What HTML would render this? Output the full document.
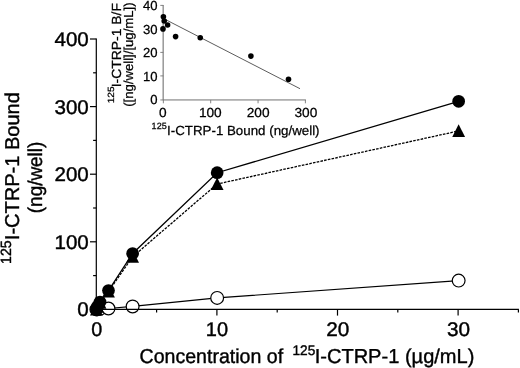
<!DOCTYPE html>
<html><head><meta charset="utf-8"><title>Figure</title>
<style>
html,body{margin:0;padding:0;background:#fff;}
body{width:520px;height:368px;overflow:hidden;}
svg{display:block;}
text{font-family:"Liberation Sans",Arial,Helvetica,sans-serif;fill:#000;stroke:#000;stroke-width:0.4px;text-rendering:geometricPrecision;}
text.s{stroke-width:0.25px;}
</style></head><body>
<svg width="520" height="368" viewBox="0 0 520 368">
<rect width="520" height="368" fill="#fff"/>

<g>
<text transform="translate(77.34 316.40) scale(1.0400 1)" font-size="19.8">0</text>
<text transform="translate(54.46 248.80) scale(1.0400 1)" font-size="19.8">100</text>
<text transform="translate(54.46 181.20) scale(1.0400 1)" font-size="19.8">200</text>
<text transform="translate(54.46 113.60) scale(1.0400 1)" font-size="19.8">300</text>
<text transform="translate(54.46 46.00) scale(1.0400 1)" font-size="19.8">400</text>
<text transform="translate(91.20 335.50) scale(1.0000 1)" font-size="19.8">0</text>
<text transform="translate(205.81 335.50) scale(1.0100 1)" font-size="19.8">10</text>
<text transform="translate(326.22 335.50) scale(1.0500 1)" font-size="19.8">20</text>
<text transform="translate(446.95 335.50) scale(1.0500 1)" font-size="19.8">30</text>
<text transform="translate(139.53 363.00) scale(0.9692 1)" font-size="20.2">Concentration of</text>
<text transform="translate(292.52 355.30) scale(0.9827 1)" font-size="13.9">125</text>
<text transform="translate(314.64 363.00) scale(0.9935 1)" font-size="20.2">I-CTRP-1 (µg/mL)</text>
<text transform="translate(11.30 263.98) rotate(-90) scale(0.9565 1)" font-size="14.8">125</text>
<text transform="translate(19.00 240.18) rotate(-90) scale(1.0012 1)" font-size="20">I-CTRP-1 Bound</text>
<text transform="translate(42.00 213.18) rotate(-90) scale(0.9450 1)" font-size="20">(ng/well)</text>
<text transform="translate(150.15 104.20) scale(1.0000 1)" font-size="13.1" class="s">0</text>
<text transform="translate(142.90 80.70) scale(1.0000 1)" font-size="13.1" class="s">10</text>
<text transform="translate(142.90 57.20) scale(1.0000 1)" font-size="13.1" class="s">20</text>
<text transform="translate(142.90 33.70) scale(1.0000 1)" font-size="13.1" class="s">30</text>
<text transform="translate(142.90 10.20) scale(1.0000 1)" font-size="13.1" class="s">40</text>
<text transform="translate(159.11 117.30) scale(1.0450 1)" font-size="13.1" class="s">0</text>
<text transform="translate(198.88 117.30) scale(1.0450 1)" font-size="13.1" class="s">100</text>
<text transform="translate(246.75 117.30) scale(1.0450 1)" font-size="13.1" class="s">200</text>
<text transform="translate(294.48 117.30) scale(1.0450 1)" font-size="13.1" class="s">300</text>
<text transform="translate(151.62 129.40) scale(1.0000 1)" font-size="9.0" class="s">125</text>
<text transform="translate(167.04 134.60) scale(1.0102 1)" font-size="13.2" class="s">I-CTRP-1 Bound (ng/well)</text>
<text transform="translate(114.20 103.30) rotate(-90) scale(1.1214 1)" font-size="9.0" class="s">125</text>
<text transform="translate(120.50 87.32) rotate(-90) scale(1.0547 1)" font-size="13.2" class="s">I-CTRP-1 B/F</text>
<text transform="translate(133.20 106.76) rotate(-90) scale(1.0093 1)" font-size="13.0" class="s">([ng/well]/[ug/mL])</text>
</g>
<polyline points="96.40,309.40 97.61,309.20 100.02,308.86 108.48,308.52 132.62,306.43 217.15,297.91 458.65,280.60" fill="none" stroke="#000" stroke-width="1.2"/>
<circle cx="96.40" cy="309.40" r="6.4" fill="#fff" stroke="#000" stroke-width="1.2"/>
<circle cx="97.61" cy="309.20" r="6.4" fill="#fff" stroke="#000" stroke-width="1.2"/>
<circle cx="100.02" cy="308.86" r="6.4" fill="#fff" stroke="#000" stroke-width="1.2"/>
<circle cx="108.48" cy="308.52" r="6.4" fill="#fff" stroke="#000" stroke-width="1.2"/>
<circle cx="132.62" cy="306.43" r="6.4" fill="#fff" stroke="#000" stroke-width="1.2"/>
<circle cx="217.15" cy="297.91" r="6.4" fill="#fff" stroke="#000" stroke-width="1.2"/>
<circle cx="458.65" cy="280.60" r="6.4" fill="#fff" stroke="#000" stroke-width="1.2"/>
<polyline points="96.40,309.40 97.61,306.70 100.02,302.64 108.48,291.49 132.62,256.81 217.15,184.00 458.65,130.94" fill="none" stroke="#000" stroke-width="1.3" stroke-dasharray="2.6 1.2"/>
<path d="M96.40 302.80L102.80 315.40H90.00Z" fill="#000"/>
<path d="M97.61 300.10L104.01 312.70H91.21Z" fill="#000"/>
<path d="M100.02 296.04L106.42 308.64H93.62Z" fill="#000"/>
<path d="M108.48 284.89L114.88 297.49H102.08Z" fill="#000"/>
<path d="M132.62 250.21L139.03 262.81H126.22Z" fill="#000"/>
<path d="M217.15 177.40L223.55 190.00H210.75Z" fill="#000"/>
<path d="M458.65 124.34L465.05 136.94H452.25Z" fill="#000"/>
<polyline points="96.40,309.40 97.61,306.36 100.02,302.10 108.48,290.54 132.62,253.49 217.15,172.71 458.65,101.33" fill="none" stroke="#000" stroke-width="1.3"/>
<circle cx="96.40" cy="309.40" r="6.35" fill="#000"/>
<circle cx="97.61" cy="306.36" r="6.35" fill="#000"/>
<circle cx="100.02" cy="302.10" r="6.35" fill="#000"/>
<circle cx="108.48" cy="290.54" r="6.35" fill="#000"/>
<circle cx="132.62" cy="253.49" r="6.35" fill="#000"/>
<circle cx="217.15" cy="172.71" r="6.35" fill="#000"/>
<circle cx="458.65" cy="101.33" r="6.35" fill="#000"/>
<g stroke="#000" stroke-width="1.2" fill="none">
<path d="M96.3 38.40V309.4H518.9"/>
<path d="M90.00 309.40H96.3"/>
<path d="M90.00 241.80H96.3"/>
<path d="M90.00 174.20H96.3"/>
<path d="M90.00 106.60H96.3"/>
<path d="M90.00 39.00H96.3"/>
<path d="M93.10 275.60H96.3"/>
<path d="M93.10 208.00H96.3"/>
<path d="M93.10 140.40H96.3"/>
<path d="M93.10 72.80H96.3"/>
<path d="M96.30 309.4V315.60"/>
<path d="M216.90 309.4V315.60"/>
<path d="M337.50 309.4V315.60"/>
<path d="M458.10 309.4V315.60"/>
<path d="M156.60 309.4V312.60"/>
<path d="M277.20 309.4V312.60"/>
<path d="M397.80 309.4V312.60"/>
<path d="M518.40 309.4V312.60"/>
</g>
<path d="M163.2 4.90V100.3" stroke="#989898" stroke-width="1.5" fill="none"/>
<path d="M163.35 99.95H305.9" stroke="#707070" stroke-width="1.0" fill="none"/>
<g stroke="#777" stroke-width="0.9" fill="none">
<path d="M160.3 75.90H163.35"/>
<path d="M160.3 52.40H163.35"/>
<path d="M160.3 28.90H163.35"/>
<path d="M160.3 5.40H163.35"/>
<path d="M160.3 99.95H163.35"/>
<path d="M163.35 99.95V103.3"/>
<path d="M210.70 99.95V103.3"/>
<path d="M258.05 99.95V103.3"/>
<path d="M305.40 99.95V103.3"/>
</g>
<path d="M165 19.3L300 88.7" stroke="#4a4a4a" stroke-width="0.9" fill="none"/>
<circle cx="163.4" cy="16.7" r="2.8" fill="#000"/>
<circle cx="164.2" cy="21.0" r="2.8" fill="#000"/>
<circle cx="167.6" cy="25" r="2.8" fill="#000"/>
<circle cx="163.0" cy="28.9" r="2.8" fill="#000"/>
<circle cx="175.6" cy="36.6" r="2.8" fill="#000"/>
<circle cx="200.25" cy="37.75" r="2.8" fill="#000"/>
<circle cx="250.9" cy="56.1" r="2.8" fill="#000"/>
<circle cx="288.5" cy="79.3" r="2.8" fill="#000"/>
</svg></body></html>
